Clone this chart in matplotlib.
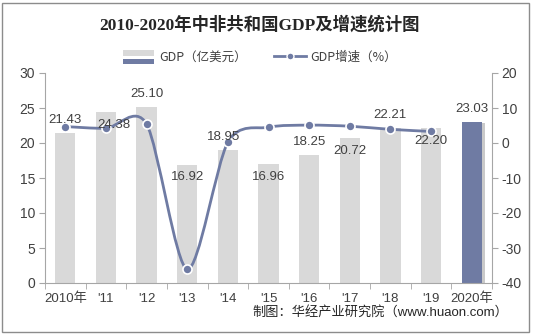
import numpy as np
import matplotlib.pyplot as plt
from matplotlib.path import Path
from matplotlib.patches import PathPatch, Rectangle
from matplotlib.lines import Line2D
import matplotlib.patheffects as pe

## ---- data
years = ['2010年', "'11", "'12", "'13", "'14", "'15", "'16", "'17", "'18", "'19", '2020年']
gdp = [21.43, 24.38, 25.10, 16.92, 18.95, 16.96, 18.25, 20.72, 22.21, 22.20, 23.03]
growth = [4.7, 4.2, 5.4, -36.1, 0.2, 4.5, 5.1, 4.8, 3.9, 3.3]  # no 2020 value

# label above (+1) or below (-1) the bar top, plus small sideways nudges in px
lab_side = [1, -1, 1, -1, 1, -1, 1, -1, 1, -1, 1]
lab_dx = [0, 8, 0, 0, -4, 0, 0, 0, 0, 0, 0]

gray = '#d9d9d9'
dark = '#6f7ba3'
txt = '#404040'
axc = '#a6a6a6'
latin_cjk = ['Liberation Sans', 'Noto Sans CJK SC']

plt.rcParams['font.family'] = latin_cjk
plt.rcParams['axes.unicode_minus'] = False

fig = plt.figure(figsize=(5.33, 3.35), dpi=100)
W, H = 533, 335
ax = fig.add_axes([45 / W, 52 / H, 447 / W, 210 / H])

x = np.arange(len(years))
colors = [gray] * (len(years) - 1) + [dark]
bars = ax.bar(x, gdp, width=0.5, color=colors, zorder=2)
bars[-1].set_path_effects([pe.SimplePatchShadow(offset=(2.5, -1), shadow_rgbFace='#888888', alpha=0.45),
                           pe.Normal()])

ax.set_xlim(-0.5, len(years) - 0.5)
ax.set_ylim(0, 30)
ax.set_yticks(range(0, 31, 5))
ax.set_xticks(x)
ax.set_xticklabels(years)
ax.set_xticks(np.arange(-0.5, len(years)), minor=True)
ax.tick_params(axis='x', which='major', length=0, pad=7, labelsize=9.5, colors=txt)
ax.tick_params(axis='x', which='minor', length=4, color=axc)
ax.tick_params(axis='y', length=4, color=axc, labelsize=10, colors=txt, pad=3)
for s in ['top', 'right']:
    ax.spines[s].set_visible(False)
for s in ['left', 'bottom']:
    ax.spines[s].set_color(axc)

## ---- growth line on the right axis
ax2 = ax.twinx()
ax2.set_ylim(-40, 20)
ax2.set_yticks(range(-40, 21, 10))
ax2.tick_params(axis='y', length=4, color=axc, labelsize=10, colors=txt, pad=3)
for s in ['top', 'left', 'bottom']:
    ax2.spines[s].set_visible(False)
ax2.spines['right'].set_color(axc)

# smoothed line: cubic Bezier segments through the points (Catmull-Rom style)
pts = np.column_stack([x[:len(growth)], growth]).astype(float)
n = len(pts)
k = 0.85
verts = [pts[0]]
codes = [Path.MOVETO]
for i in range(n - 1):
    p0 = pts[max(i - 1, 0)]
    p1 = pts[i]
    p2 = pts[i + 1]
    p3 = pts[min(i + 2, n - 1)]
    c1 = p1 + (p2 - p0) / 6 * k
    c2 = p2 - (p3 - p1) / 6 * k
    verts += [c1, c2, p2]
    codes += [Path.CURVE4] * 3
ax2.add_patch(PathPatch(Path(verts, codes), fill=False, ec=dark, lw=2, zorder=3))
ax2.plot(pts[:, 0], pts[:, 1], 'o', ms=6.5, mfc=dark, mec='white', mew=1.2, zorder=4)

# value labels for the bars, put on the top axes so they sit over the line
for i, v in enumerate(gdp):
    ax2.annotate(f'{v:.2f}', (x[i], v), xycoords=ax.transData,
                 xytext=(lab_dx[i] * 0.72, lab_side[i] * 9.3),
                 textcoords='offset points', ha='center', va='center',
                 fontsize=9.5, color=txt, zorder=5)

## ---- legend with a two-tone patch for the GDP series
class StackedPatch:
    def legend_artist(self, legend, orig_handle, fontsize, handlebox):
        x0, y0 = handlebox.xdescent, handlebox.ydescent
        w, h = handlebox.width, handlebox.height
        top = Rectangle((x0, y0 + h * 0.55), w, h * 0.6, fc=gray, ec='none',
                        transform=handlebox.get_transform())
        bot = Rectangle((x0, y0 - h * 0.45), w, h * 0.6, fc=dark, ec='none',
                        transform=handlebox.get_transform())
        handlebox.add_artist(top)
        handlebox.add_artist(bot)
        return top

gdp_handle = Rectangle((0, 0), 1, 1)
line_handle = Line2D([], [], color=dark, lw=2, marker='o', ms=5, mfc=dark, mec='white')
fig.legend([gdp_handle, line_handle], ['GDP（亿美元）', 'GDP增速（%）'],
           handler_map={Rectangle: StackedPatch()},
           loc='center', bbox_to_anchor=(260 / W, 1 - 57 / H), ncol=2, frameon=False,
           prop={'family': ['Noto Sans CJK SC'], 'size': 9}, labelcolor=txt,
           handlelength=2.5, columnspacing=2.2, handletextpad=0.4)

fig.text(259 / W, 1 - 25 / H, '2010-2020年中非共和国GDP及增速统计图',
         ha='center', va='center', fontsize=12.5, fontweight='bold', color='#262626',
         family=['Liberation Serif', 'Noto Sans CJK SC'])
fig.text(508 / W, 1 - 312 / H, '制图：华经产业研究院（www.huaon.com）',
         ha='right', va='center', fontsize=9.5, color='#262626')

fig.patches.append(Rectangle((2 / W, 3 / H), 527 / W, 329 / H, transform=fig.transFigure,
                             fill=False, ec='#8c8c8c', lw=1))

fig.savefig('out.png', dpi=100)
